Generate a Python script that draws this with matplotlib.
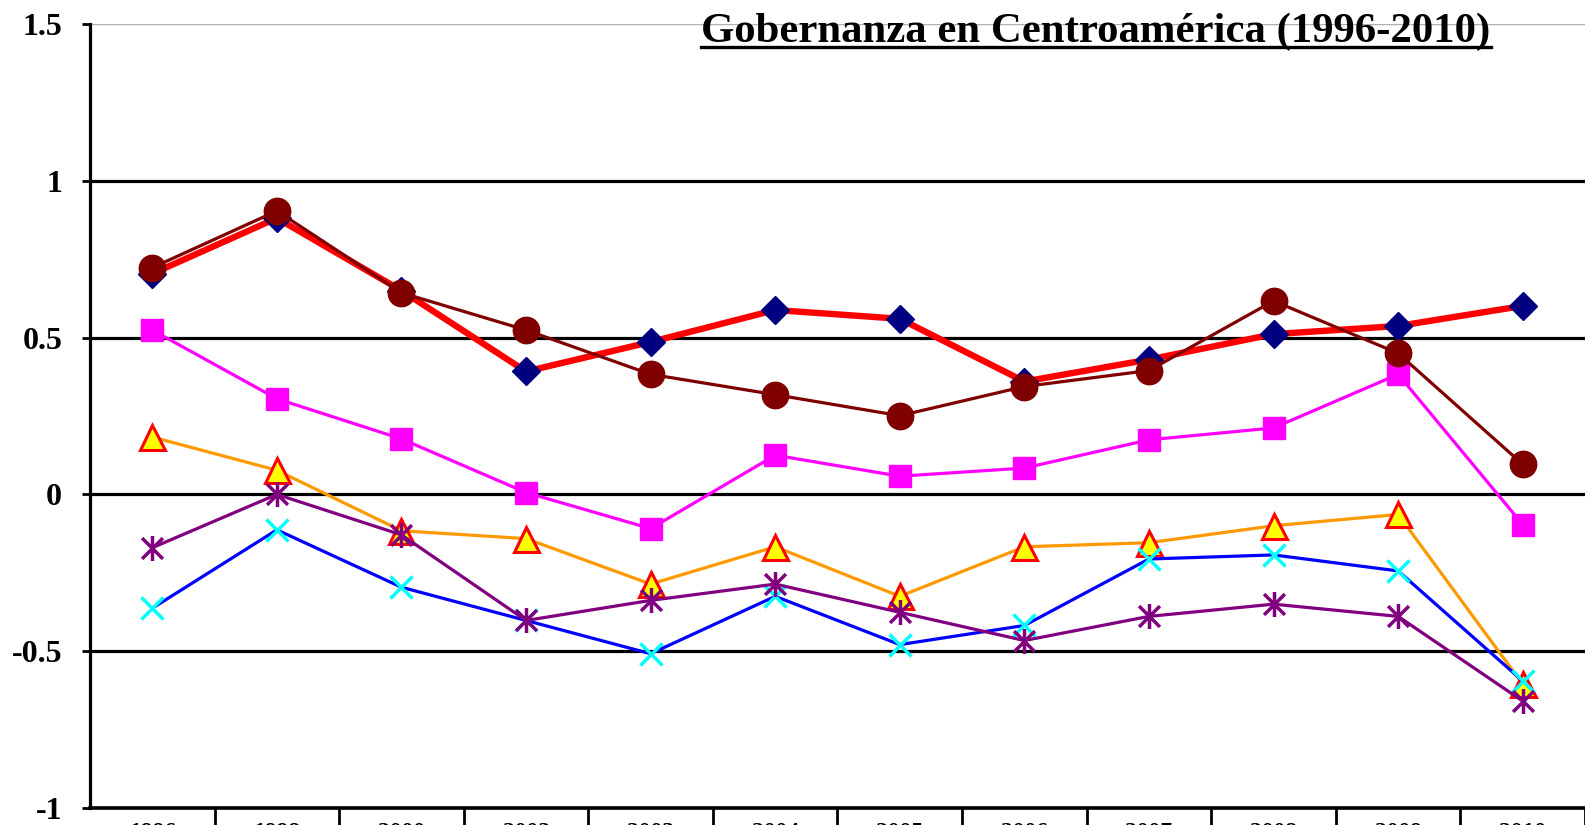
import matplotlib
matplotlib.use("Agg")
import matplotlib.pyplot as plt
from matplotlib.path import Path
from matplotlib.lines import Line2D
import numpy as np

years = ["1996", "1998", "2000", "2002", "2003", "2004", "2005", "2006", "2007", "2008", "2009", "2010"]

s_diamond = [0.704, 0.881, 0.650, 0.392, 0.486, 0.588, 0.560, 0.360, 0.430, 0.511, 0.537, 0.601]
s_circle = [0.723, 0.904, 0.643, 0.524, 0.383, 0.318, 0.251, 0.344, 0.395, 0.617, 0.450, 0.096]
s_square = [0.524, 0.305, 0.177, 0.006, -0.109, 0.125, 0.058, 0.084, 0.174, 0.212, 0.383, -0.096]
s_triangle = [0.183, 0.077, -0.116, -0.141, -0.286, -0.167, -0.325, -0.167, -0.154, -0.100, -0.064, -0.605]
s_cross = [-0.363, -0.113, -0.296, -0.402, -0.508, -0.325, -0.479, -0.418, -0.206, -0.193, -0.244, -0.595]
s_star = [-0.170, 0.000, -0.129, -0.402, -0.338, -0.286, -0.376, -0.466, -0.389, -0.350, -0.389, -0.659]

title = "Gobernanza en Centroamérica (1996-2010)"
yticks = [-1, -0.5, 0, 0.5, 1, 1.5]
yticklabels = ["-1", "-0.5", "0", "0.5", "1", "1.5"]

W, H = 1585, 825
fig = plt.figure(figsize=(W / 100, H / 100), dpi=100)
ax = fig.add_axes([90 / W, (H - 808) / H, (W - 90) / W, (808 - 24) / H])

x = np.arange(len(years))
ax.set_xlim(-0.5, len(years) - 0.5)
ax.set_ylim(-1, 1.5)

for yv in [-0.5, 0, 0.5, 1]:
    ax.axhline(yv, color="black", lw=2.3, zorder=1)
ax.axhline(1.5, color="#b0b0b0", lw=1.0, zorder=1)

star_path = Path([(-1, -1), (1, 1), (-1, 1), (1, -1), (0, -1.2), (0, 1.2)],
                 [Path.MOVETO, Path.LINETO, Path.MOVETO, Path.LINETO, Path.MOVETO, Path.LINETO])

ax.plot(x, s_diamond, color="#ff0000", lw=4.6, marker="D", ms=14.5,
        mfc="#000080", mec="#000080", zorder=3)
ax.plot(x, s_square, color="#ff00ff", lw=2.3, marker="s", ms=16,
        mfc="#ff00ff", mec="#ff00ff", zorder=4)
ax.plot(x, s_triangle, color="#ff9900", lw=2.3, marker="^", ms=18,
        mfc="#ffff00", mec="#ff0000", mew=2.2, zorder=5)
ax.plot(x, s_cross, color="#0000ff", lw=2.3, marker="x", ms=16,
        mec="#00ffff", mew=2.5, zorder=6)
ax.plot(x, s_star, color="#800080", lw=2.3, marker=star_path, ms=18,
        mfc="none", mec="#800080", mew=2.5, zorder=7)
ax.plot(x, s_circle, color="#800000", lw=2.3, marker="o", ms=19,
        mfc="#800000", mec="#800000", zorder=8)

for side in ["top", "right"]:
    ax.spines[side].set_visible(False)
ax.spines["left"].set_linewidth(2.3)
ax.spines["bottom"].set_linewidth(2.6)
ax.spines["left"].set_zorder(10)
ax.spines["bottom"].set_zorder(10)

ax.set_yticks(yticks)
ax.set_yticklabels(yticklabels, fontfamily="Liberation Serif", fontweight="bold", fontsize=23)
ax.tick_params(axis="y", direction="out", length=6, width=2, pad=14)

ax.set_xticks(x)
ax.set_xticklabels(years, fontfamily="Liberation Serif", fontweight="bold", fontsize=17)
ax.set_xticks(np.arange(0.5, len(years) - 0.5 + 0.01, 1.0), minor=True)
ax.tick_params(axis="x", which="major", length=0, pad=10)
ax.tick_params(axis="x", which="minor", direction="out", length=20, width=2)

t = fig.text(1096 / W, 1 - 42 / H, title, ha="center", va="baseline",
             fontfamily="Liberation Serif", fontweight="bold", fontsize=30.8)
fig.canvas.draw()
bb = t.get_window_extent()
fig.add_artist(Line2D([bb.x0 / W, bb.x1 / W], [1 - 47 / H, 1 - 47 / H],
                      transform=fig.transFigure, color="black", lw=2.4))

fig.savefig("out.png", dpi=100)
